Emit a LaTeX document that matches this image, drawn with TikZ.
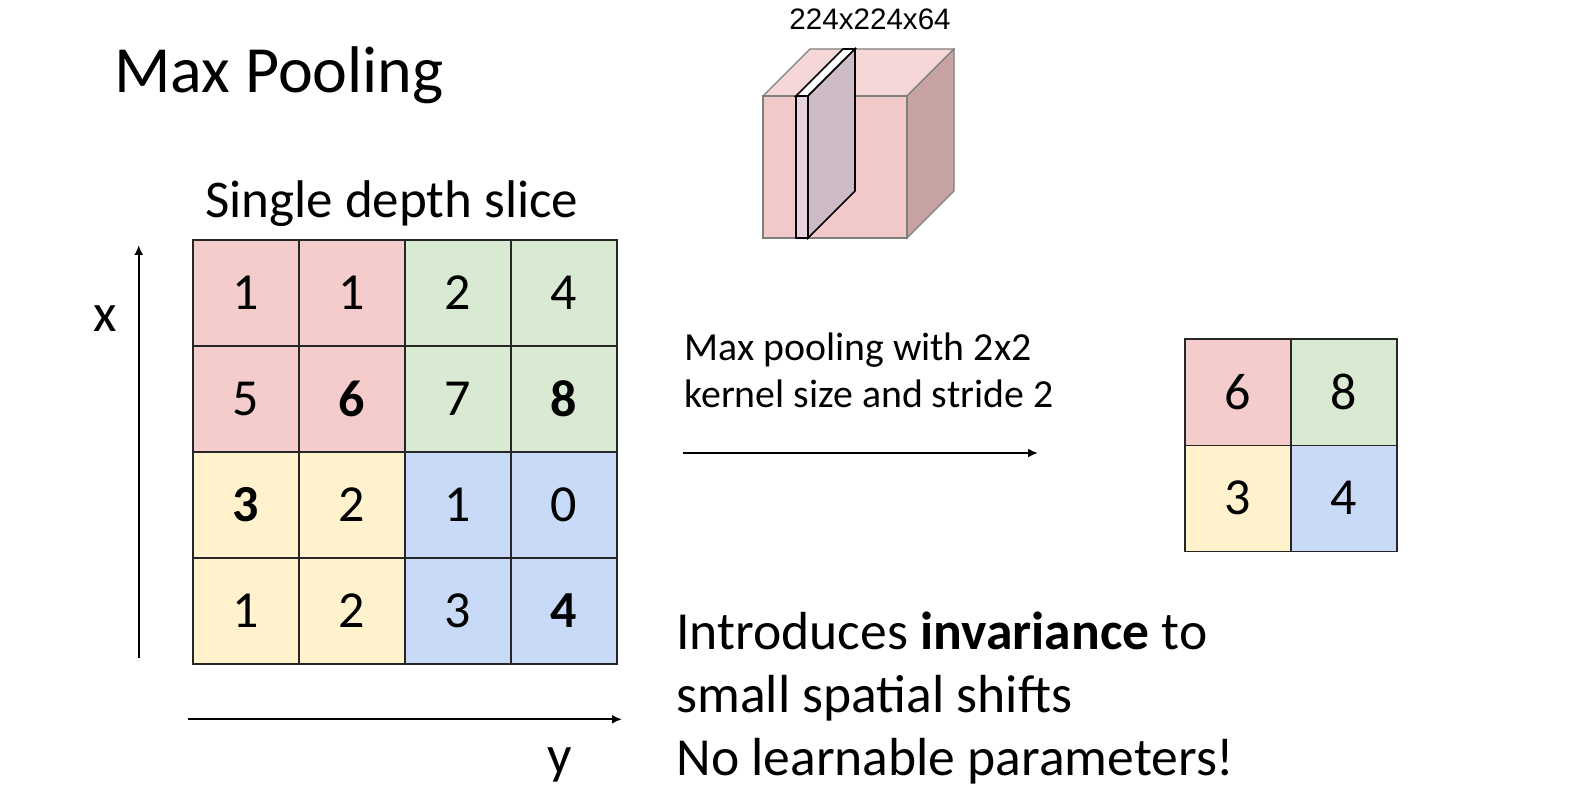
\documentclass[tikz,border=0pt]{standalone}
\usepackage{fontspec}
\setmainfont{Carlito}
\newfontfamily\arialfont{Liberation Sans}
\usetikzlibrary{arrows.meta}

\definecolor{cellred}{HTML}{F4CCCC}
\definecolor{cellgreen}{HTML}{D9EAD3}
\definecolor{cellyellow}{HTML}{FFF2CC}
\definecolor{cellblue}{HTML}{C9DAF8}
\definecolor{cubefront}{HTML}{F2C9C9}
\definecolor{cubetop}{HTML}{F5D7D7}
\definecolor{cubeside}{HTML}{C8A3A3}
\definecolor{slicefront}{HTML}{E8D2DE}
\definecolor{sliceside}{HTML}{CDBBC7}
\definecolor{cubeedge}{HTML}{7F7F7F}

\begin{document}
\begin{tikzpicture}[x=0.5pt,y=-0.5pt, >={Latex[length=5pt,width=4.5pt]},
  cell/.style={draw=black!85,line width=0.8pt,minimum width=53pt,minimum height=53pt,inner sep=0pt,font=\fontsize{26}{30}\selectfont},
  txt/.style={anchor=base west,inner sep=0pt},
  axis/.style={->,line width=1pt}]
  \useasboundingbox (0,0) rectangle (1588,796);

  % titles
  \node[txt,font=\fontsize{33}{38}\selectfont] (title) at (114,93) {Max Pooling};
  \node[txt,font=\fontsize{26.5}{30}\selectfont] (slice) at (205,218) {Single depth slice};
  \node[txt,font=\arialfont\fontsize{14.8}{17}\selectfont] (dims) at (789,30) {224x224x64};

  % input grid
  \foreach \r/\c/\v/\col in {0/0/1/cellred,0/1/1/cellred,0/2/2/cellgreen,0/3/4/cellgreen,
      1/0/5/cellred,1/1/\textbf{6}/cellred,1/2/7/cellgreen,1/3/\textbf{8}/cellgreen,
      2/0/\textbf{3}/cellyellow,2/1/2/cellyellow,2/2/1/cellblue,2/3/0/cellblue,
      3/0/1/cellyellow,3/1/2/cellyellow,3/2/3/cellblue,3/3/\textbf{4}/cellblue}
    \node[cell,fill=\col] (g\r\c) at ({245.7+106.1*\c},{292.8+106.1*\r}) {\v};

  % axes
  \coordinate (xtail) at (138.7,658); \coordinate (xhead) at (138.7,245);
  \coordinate (ytail) at (188.3,719.3); \coordinate (yhead) at (622,719.3);
  \draw[axis] (xtail) -- (xhead);
  \draw[axis] (ytail) -- (yhead);
  \node[txt,font=\fontsize{27}{30}\selectfont] (xlab) at (93,331) {x};
  \node[txt,font=\fontsize{27}{30}\selectfont] (ylab) at (547,773) {y};

  % pooling step
  \node[txt,font=\fontsize{19.9}{23.5}\selectfont,align=left] (pool) at (684,407)
    {Max pooling with 2x2\\kernel size and stride 2};
  \coordinate (ptail) at (683,453); \coordinate (phead) at (1038,453);
  \draw[axis] (ptail) -- (phead);

  % output grid
  \foreach \r/\c/\v/\col in {0/0/6/cellred,0/1/8/cellgreen,1/0/3/cellyellow,1/1/4/cellblue}
    \node[cell,fill=\col] (p\r\c) at ({1238+106*\c},{392.3+106*\r}) {\v};

  % remarks
  \node[txt,font=\fontsize{26.8}{31.5}\selectfont,align=left] (note) at (676,775)
    {Introduces \textbf{invariance} to\\small spatial shifts\\No learnable parameters!};

  % cube with one slice
  \draw[cubeedge,line width=0.6pt,fill=cubetop] (763,96) -- (810,49) -- (954,49) -- (907,96) -- cycle;
  \draw[cubeedge,line width=0.6pt,fill=cubeside] (907,96) -- (954,49) -- (954,191) -- (907,238) -- cycle;
  \draw[cubeedge,line width=0.6pt,fill=cubefront] (763,96) rectangle (907,238);
  \draw[black,line width=0.8pt,fill=white] (796,96) -- (843,49) -- (855,49) -- (808,96) -- cycle;
  \draw[black,line width=0.8pt,fill=sliceside] (808,96) -- (855,49) -- (855,191) -- (808,238) -- cycle;
  \draw[black,line width=0.8pt,fill=slicefront] (796,96) rectangle (808,238);
\end{tikzpicture}
\end{document}
